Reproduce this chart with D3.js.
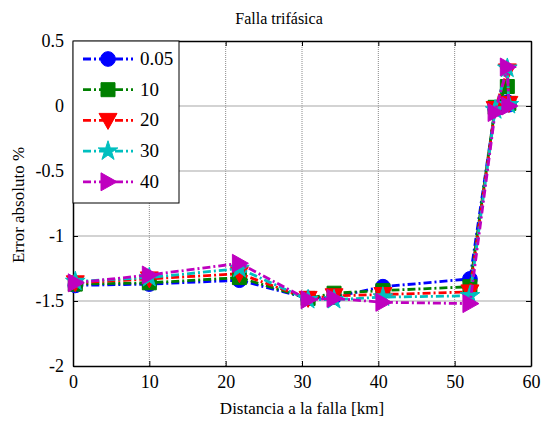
<!DOCTYPE html>
<html>
<head>
<meta charset="utf-8">
<script src="https://cdn.jsdelivr.net/npm/d3@7"></script>
<style>
  html, body { margin: 0; padding: 0; background: #fff; }
  svg text { font-family: "Liberation Serif", "DejaVu Serif", serif; }
</style>
</head>
<body>
<svg id="chart" width="552" height="423"></svg>
<script>
// Fault distance (km) of each simulated point
const distances = [0.3, 10, 21.8, 30.8, 34.2, 40.6, 52, 55.3, 56.9, 57.1];

// Absolute error (%) per fault resistance
const seriesNames = ["0.05", "10", "20", "30", "40"];
const err005 = [-1.38, -1.37, -1.34, -1.48, -1.47, -1.39, -1.33, -0.02, 0.03, 0.01];
const err10  = [-1.37, -1.36, -1.32, -1.48, -1.44, -1.42, -1.39, -0.01, 0.15, 0.02];
const err20  = [-1.36, -1.33, -1.29, -1.48, -1.46, -1.45, -1.43, -0.02, 0.27, 0.02];
const err30  = [-1.35, -1.32, -1.25, -1.49, -1.49, -1.47, -1.46, -0.03, 0.29, 0.01];
const err40  = [-1.36, -1.30, -1.21, -1.49, -1.48, -1.51, -1.52, -0.05, 0.30, 0.00];
const seriesValues = [err005, err10, err20, err30, err40];
const seriesColors = ["#0000ff", "#008000", "#ff0000", "#00bfbf", "#bf00bf"];
const seriesMarkers = ["circle", "square", "triangleDown", "star", "triangleRight"];

const xTicks = [0, 10, 20, 30, 40, 50, 60];
const yTicks = [0.5, 0, -0.5, -1, -1.5, -2];
const yTickLabels = ["0.5", "0", "-0.5", "-1", "-1.5", "-2"];

const FONT = "Liberation Serif";
const svg = d3.select("#chart");
const plotL = 73, plotR = 531, plotT = 41, plotB = 366;

const x = d3.scaleLinear().domain([0, 60]).range([plotL, plotR]);
const y = d3.scaleLinear().domain([-2, 0.5]).range([plotB, plotT]);

// Grid
const grid = svg.append("g");
grid.selectAll("line.gx").data(xTicks.slice(1, -1)).join("line")
  .attr("x1", d => x(d)).attr("x2", d => x(d))
  .attr("y1", plotT).attr("y2", plotB)
  .attr("stroke", "#8a8a8a").attr("stroke-width", 1).attr("stroke-dasharray", "1,1");
grid.selectAll("line.gy").data(yTicks.slice(1, -1)).join("line")
  .attr("x1", plotL).attr("x2", plotR)
  .attr("y1", d => y(d)).attr("y2", d => y(d))
  .attr("stroke", "#a8a8a8").attr("stroke-width", 1.2);

// Axes with inward ticks
const tickLen = 5;
const xAxisB = d3.axisBottom(x).tickValues(xTicks).tickSizeInner(-tickLen).tickSizeOuter(0).tickPadding(9);
const xAxisT = d3.axisTop(x).tickValues(xTicks).tickSizeInner(-tickLen).tickSizeOuter(0).tickFormat("");
const yAxisL = d3.axisLeft(y).tickValues(yTicks).tickSizeInner(-tickLen).tickSizeOuter(0).tickPadding(9)
  .tickFormat((d, i) => yTickLabels[i]);
const yAxisR = d3.axisRight(y).tickValues(yTicks).tickSizeInner(-tickLen).tickSizeOuter(0).tickFormat("");

function styleAxis(g) {
  g.attr("font-family", FONT).attr("font-size", 18);
  g.select(".domain").attr("stroke", "#000").attr("stroke-width", 1.5);
  g.selectAll(".tick line").attr("stroke", "#000").attr("stroke-width", 1);
  g.selectAll(".tick text").attr("fill", "#000");
}
svg.append("g").attr("transform", `translate(0,${plotB})`).call(xAxisB).call(styleAxis);
svg.append("g").attr("transform", `translate(0,${plotT})`).call(xAxisT).call(styleAxis);
svg.append("g").attr("transform", `translate(${plotL},0)`).call(yAxisL).call(styleAxis);
svg.append("g").attr("transform", `translate(${plotR},0)`).call(yAxisR).call(styleAxis);

// Marker shapes
function markerPath(kind) {
  switch (kind) {
    case "circle": return d3.symbol(d3.symbolCircle, 170)();
    case "square": return "M-7,-7H7V7H-7Z";
    case "triangleDown": return "M-9,-7L9,-7L0,9Z";
    case "triangleRight": return "M-7,-9L9,0L-7,9Z";
    case "star": return d3.symbol(d3.symbolStar, 120)();
  }
}

// Series lines and markers
const line = d3.line().x((d, i) => x(distances[i])).y(d => y(d));
seriesValues.forEach((vals, s) => {
  const g = svg.append("g");
  g.append("path").datum(vals)
    .attr("d", line)
    .attr("fill", "none")
    .attr("stroke", seriesColors[s])
    .attr("stroke-width", 2.8)
    .attr("stroke-dasharray", "8,3,2,3");
  g.selectAll("path.m").data(vals).join("path")
    .attr("class", "m")
    .attr("transform", (d, i) => `translate(${x(distances[i])},${y(d)})`)
    .attr("d", markerPath(seriesMarkers[s]))
    .attr("fill", seriesColors[s])
    .attr("stroke", seriesColors[s])
    .attr("stroke-width", 1);
});

// Legend
const lg = svg.append("g");
lg.append("rect").attr("x", plotL).attr("y", plotT).attr("width", 106).attr("height", 162)
  .attr("fill", "#fff").attr("stroke", "#000").attr("stroke-width", 1);
seriesNames.forEach((name, s) => {
  const cy = 59 + s * 30.7;
  lg.append("line").attr("x1", 83).attr("x2", 133).attr("y1", cy).attr("y2", cy)
    .attr("stroke", seriesColors[s]).attr("stroke-width", 2.8).attr("stroke-dasharray", "8,3,2,3");
  lg.append("path").attr("transform", `translate(108,${cy})`).attr("d", markerPath(seriesMarkers[s]))
    .attr("fill", seriesColors[s]).attr("stroke", seriesColors[s]).attr("stroke-width", 1);
  lg.append("text").attr("x", 140).attr("y", cy + 6).text(name)
    .attr("font-family", FONT).attr("font-size", 19).attr("fill", "#000");
});

// Titles
svg.append("text").attr("x", 279).attr("y", 24).attr("text-anchor", "middle")
  .attr("font-family", FONT).attr("font-size", 16).text("Falla trifásica");
svg.append("text").attr("x", 302).attr("y", 414).attr("text-anchor", "middle")
  .attr("font-family", FONT).attr("font-size", 17).text("Distancia a la falla [km]");
svg.append("text").attr("transform", "translate(24,205) rotate(-90)").attr("text-anchor", "middle")
  .attr("font-family", FONT).attr("font-size", 17).text("Error absoluto %");
</script>
</body>
</html>
